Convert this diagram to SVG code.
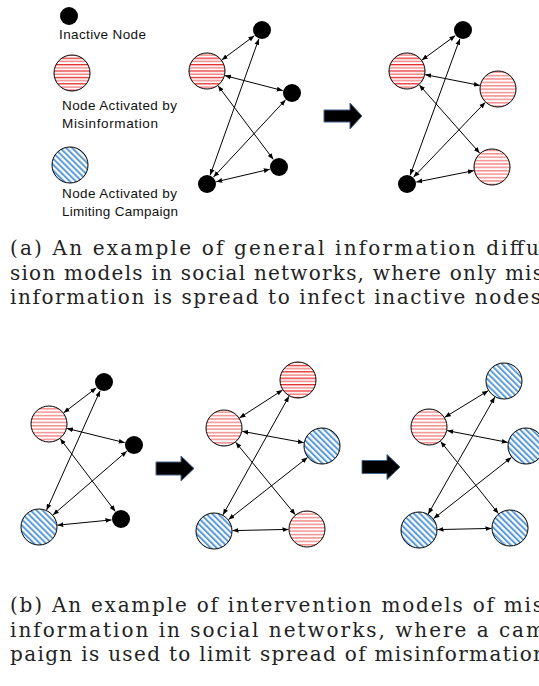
<svg xmlns="http://www.w3.org/2000/svg" width="539" height="686" viewBox="0 0 539 686">
<defs>
<pattern id="red" patternUnits="userSpaceOnUse" width="6" height="6.4">
<rect width="6" height="6.4" fill="#ffffff"/>
<rect y="0" width="6" height="1.3" fill="#e82828"/>
<rect y="3.2" width="6" height="1.3" fill="#f07878"/>
</pattern>
<pattern id="pink" patternUnits="userSpaceOnUse" width="6" height="3.4">
<rect width="6" height="3.4" fill="#ffffff"/>
<rect y="0" width="6" height="1.5" fill="#f49090"/>
</pattern>
<pattern id="blue" patternUnits="userSpaceOnUse" width="4.2" height="6" patternTransform="rotate(-45)">
<rect width="4.2" height="6" fill="#ffffff"/>
<rect x="0" width="2" height="6" fill="#5b9bd5"/>
</pattern>
<marker id="ah" viewBox="0 0 6 6" refX="6" refY="3" markerWidth="6" markerHeight="6" markerUnits="userSpaceOnUse" orient="auto-start-reverse">
<path d="M0,0.6 L6,3 L0,5.4 Z" fill="#000"/>
</marker>
</defs>
<style>
.inact{fill:#000}
.mis{fill:url(#pink);stroke:#000;stroke-width:1}
.mis2{fill:url(#red);stroke:#000;stroke-width:1}
.lim{fill:url(#blue);stroke:#000;stroke-width:1}
.edge{stroke:#000;stroke-width:1;fill:none;marker-start:url(#ah);marker-end:url(#ah)}
.big{fill:#000;stroke:#41618a;stroke-width:1}
.leg{font-family:"Liberation Sans",Arial,sans-serif;font-size:13.5px;fill:#111}
.cap{font-family:"DejaVu Serif","Liberation Serif",serif;font-size:20px;fill:#222}
</style>

<g id="legend">
<g id="leg-inactive"><circle class="inact" cx="69" cy="16" r="9"/><text class="leg" x="59" y="39" textLength="87">Inactive Node</text></g>
<g id="leg-mis"><circle class="mis2" cx="72" cy="73" r="18"/><text class="leg" x="62" y="110" textLength="115">Node Activated by</text><text class="leg" x="62" y="128" textLength="96">Misinformation</text></g>
<g id="leg-lim"><circle class="lim" cx="70" cy="165" r="18"/><text class="leg" x="62" y="198" textLength="115">Node Activated by</text><text class="leg" x="62" y="216" textLength="116">Limiting Campaign</text></g>
</g>

<g id="connectors">
<!-- a1 -->
<line class="edge" x1="254.4" y1="35.7" x2="221.8" y2="59.9"/>
<line class="edge" x1="258.8" y1="38.9" x2="210.2" y2="175.1"/>
<line class="edge" x1="224.9" y1="75.6" x2="282.8" y2="90.6"/>
<line class="edge" x1="218.1" y1="85.8" x2="273.3" y2="159.4"/>
<line class="edge" x1="285.5" y1="99.9" x2="213.5" y2="177.1"/>
<line class="edge" x1="269.8" y1="169.2" x2="216.2" y2="181.8"/>
<!-- a2 -->
<line class="edge" x1="455.3" y1="35.6" x2="421.9" y2="60.1"/>
<line class="edge" x1="459.8" y1="38.9" x2="410.2" y2="175.1"/>
<line class="edge" x1="425.1" y1="74.6" x2="479.9" y2="85.4"/>
<line class="edge" x1="419.3" y1="84.9" x2="479.7" y2="153.1"/>
<line class="edge" x1="485.2" y1="102.4" x2="413.6" y2="177.1"/>
<line class="edge" x1="473.9" y1="170.6" x2="416.3" y2="182.1"/>
<!-- b1 -->
<line class="edge" x1="96.4" y1="387.8" x2="63.7" y2="412.8"/>
<line class="edge" x1="100.1" y1="390.7" x2="46.6" y2="510.1"/>
<line class="edge" x1="67.0" y1="428.4" x2="124.8" y2="442.7"/>
<line class="edge" x1="60.2" y1="438.7" x2="115.3" y2="511.4"/>
<line class="edge" x1="126.8" y1="451.2" x2="53.0" y2="514.9"/>
<line class="edge" x1="111.5" y1="519.9" x2="57.4" y2="525.2"/>
<!-- b2 -->
<line class="edge" x1="282.5" y1="390.1" x2="239.5" y2="417.9"/>
<line class="edge" x1="289.0" y1="396.2" x2="223.0" y2="514.8"/>
<line class="edge" x1="242.2" y1="431.3" x2="303.8" y2="442.7"/>
<line class="edge" x1="235.7" y1="442.3" x2="295.3" y2="514.7"/>
<line class="edge" x1="307.5" y1="457.5" x2="228.5" y2="519.6"/>
<line class="edge" x1="288.5" y1="529.4" x2="232.5" y2="530.6"/>
<!-- b3 -->
<line class="edge" x1="488.2" y1="390.7" x2="444.8" y2="417.3"/>
<line class="edge" x1="494.8" y1="397.1" x2="428.2" y2="513.9"/>
<line class="edge" x1="447.2" y1="430.6" x2="507.8" y2="442.4"/>
<line class="edge" x1="440.6" y1="441.4" x2="498.4" y2="513.6"/>
<line class="edge" x1="511.4" y1="457.4" x2="433.6" y2="518.6"/>
<line class="edge" x1="491.5" y1="528.4" x2="437.5" y2="529.6"/>
</g>

<g id="graph-a1">
<g id="a1-A"><circle class="inact" cx="262" cy="30" r="9"/></g>
<g id="a1-B"><circle class="mis2" cx="207" cy="71" r="18"/></g>
<g id="a1-C"><circle class="inact" cx="292" cy="93" r="9"/></g>
<g id="a1-D"><circle class="inact" cx="279" cy="167" r="9"/></g>
<g id="a1-E"><circle class="inact" cx="207" cy="184" r="9"/></g>
</g>
<g id="graph-a2">
<g id="a2-A"><circle class="inact" cx="463" cy="30" r="9"/></g>
<g id="a2-B"><circle class="mis2" cx="407" cy="71" r="18"/></g>
<g id="a2-C"><circle class="mis" cx="498" cy="89" r="18"/></g>
<g id="a2-D"><circle class="mis" cx="492" cy="167" r="18"/></g>
<g id="a2-E"><circle class="inact" cx="407" cy="184" r="9"/></g>
</g>
<g id="graph-b1">
<g id="b1-A"><circle class="inact" cx="104" cy="382" r="9"/></g>
<g id="b1-B"><circle class="mis" cx="49" cy="424" r="18"/></g>
<g id="b1-C"><circle class="inact" cx="134" cy="445" r="9"/></g>
<g id="b1-D"><circle class="inact" cx="121" cy="519" r="9"/></g>
<g id="b1-E"><circle class="lim" cx="39" cy="527" r="18"/></g>
</g>
<g id="graph-b2">
<g id="b2-A"><circle class="mis2" cx="298" cy="380" r="18"/></g>
<g id="b2-B"><circle class="mis" cx="224" cy="428" r="18"/></g>
<g id="b2-C"><circle class="lim" cx="322" cy="446" r="18"/></g>
<g id="b2-D"><circle class="mis" cx="307" cy="529" r="18"/></g>
<g id="b2-E"><circle class="lim" cx="214" cy="531" r="18"/></g>
</g>
<g id="graph-b3">
<g id="b3-A"><circle class="lim" cx="504" cy="381" r="18"/></g>
<g id="b3-B"><circle class="mis" cx="429" cy="427" r="18"/></g>
<g id="b3-C"><circle class="lim" cx="526" cy="446" r="18"/></g>
<g id="b3-D"><circle class="lim" cx="510" cy="528" r="18"/></g>
<g id="b3-E"><circle class="lim" cx="419" cy="530" r="18"/></g>
</g>

<g id="arrow-a"><path class="big" d="M324,110 H350 V103 L362,116 L350,129 V122 H324 Z"/></g>
<g id="arrow-b1"><path class="big" d="M156,462 H181 V456 L194,468.5 L181,481 V475 H156 Z"/></g>
<g id="arrow-b2"><path class="big" d="M362,460.5 H387 V454.5 L400,467 L387,479.5 V473.5 H362 Z"/></g>

<g id="caption-a">
<text class="cap" x="10" y="255" textLength="529" lengthAdjust="spacing">(a) An example of general information diffu</text>
<text class="cap" x="10" y="279.5" textLength="533" lengthAdjust="spacing">sion models in social networks, where only mis</text>
<text class="cap" x="10" y="304" textLength="531" lengthAdjust="spacing">information is spread to infect inactive nodes</text>
</g>
<g id="caption-b">
<text class="cap" x="10" y="612" textLength="533" lengthAdjust="spacing">(b) An example of intervention models of mis</text>
<text class="cap" x="10" y="636.5" textLength="535" lengthAdjust="spacing">information in social networks, where a cam</text>
<text class="cap" x="10" y="661" textLength="536" lengthAdjust="spacing">paign is used to limit spread of misinformation</text>
</g>
</svg>
